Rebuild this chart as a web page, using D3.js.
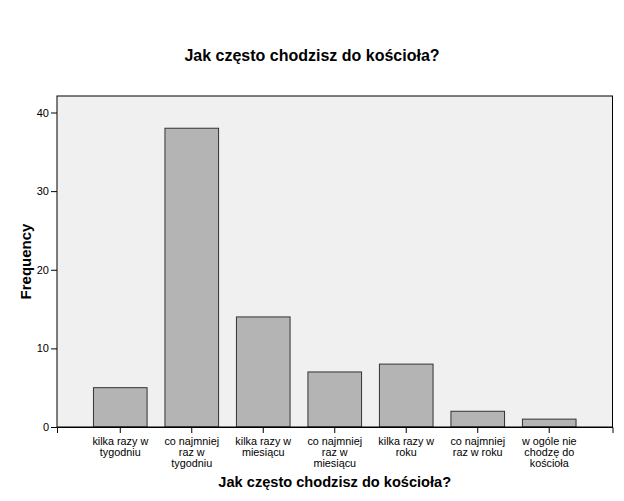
<!DOCTYPE html>
<html><head><meta charset="utf-8">
<script src="https://cdn.jsdelivr.net/npm/d3@7"></script>
<style>body{margin:0;background:#fff}svg{display:block}</style>
</head><body>
<script>
const categories = [
  ["kilka razy w","tygodniu"],
  ["co najmniej","raz w","tygodniu"],
  ["kilka razy w","miesiącu"],
  ["co najmniej","raz w","miesiącu"],
  ["kilka razy w","roku"],
  ["co najmniej","raz w roku"],
  ["w ogóle nie","chodzę do","kościoła"]
];
const frequencies = [5, 38, 14, 7, 8, 2, 1];
const yTicks = [0, 10, 20, 30, 40];
const titleText = "Jak często chodzisz do kościoła?";
const xTitle = "Jak często chodzisz do kościoła?";
const yTitle = "Frequency";

const W = 624, H = 501;
const m = {left: 57, right: 624 - 612.5, top: 96, bottom: 501 - 427};
const svg = d3.select("body").append("svg").attr("width", W).attr("height", H)
  .style("font-family", "'Liberation Sans', Arial, sans-serif");

const idx = categories.map((d, i) => i);
const x = d3.scaleBand().domain(idx).range([m.left, W - m.right]).paddingInner(0.25).paddingOuter(0.51);
const y = d3.scaleLinear().domain([0, 42.1]).range([H - m.bottom, m.top]);

svg.append("rect").attr("x", m.left).attr("y", m.top)
  .attr("width", W - m.right - m.left).attr("height", H - m.bottom - m.top)
  .attr("fill", "#f0f0f0");

svg.selectAll("rect.bar").data(frequencies).enter().append("rect").attr("class", "bar")
  .attr("x", (d, i) => x(i)).attr("y", d => y(d))
  .attr("width", x.bandwidth()).attr("height", d => y(0) - y(d))
  .attr("fill", "#b4b4b4").attr("stroke", "#333").attr("stroke-width", 1);

svg.append("rect").attr("x", m.left).attr("y", m.top)
  .attr("width", W - m.right - m.left).attr("height", H - m.bottom - m.top)
  .attr("fill", "none").attr("stroke", "#000").attr("stroke-width", 1);

const yAxis = svg.append("g").attr("transform", `translate(${m.left},0)`)
  .call(d3.axisLeft(y).tickValues(yTicks).tickSize(6).tickPadding(2));
yAxis.select(".domain").remove();
yAxis.selectAll("line").attr("stroke", "#000");
yAxis.selectAll("text").attr("font-size", 11).attr("font-family", "'Liberation Sans', Arial, sans-serif").attr("fill", "#000");

const xAxis = svg.append("g").attr("transform", `translate(0,${H - m.bottom})`)
  .call(d3.axisBottom(x).tickSize(6).tickFormat(""));
xAxis.select(".domain").attr("stroke", "#000");
xAxis.selectAll("line").attr("stroke", "#000");
xAxis.selectAll(".tick").each(function(d) {
  const t = d3.select(this).append("text").attr("fill", "#000")
    .attr("font-size", 10.8).attr("text-anchor", "middle")
    .attr("font-family", "'Liberation Sans', Arial, sans-serif");
  categories[d].forEach((line, k) => {
    t.append("tspan").attr("x", 0).attr("y", 18 + k * 11).text(line);
  });
});

svg.append("text").attr("x", W / 2).attr("y", 61).attr("text-anchor", "middle")
  .attr("font-size", 16).attr("font-weight", "bold").text(titleText);
svg.append("text").attr("x", (m.left + W - m.right) / 2).attr("y", 487).attr("text-anchor", "middle")
  .attr("font-size", 14.6).attr("font-weight", "bold").text(xTitle);
svg.append("text").attr("transform", `translate(31,${(m.top + H - m.bottom) / 2}) rotate(-90)`)
  .attr("text-anchor", "middle").attr("font-size", 15).attr("font-weight", "bold").text(yTitle);
</script>
</body></html>
